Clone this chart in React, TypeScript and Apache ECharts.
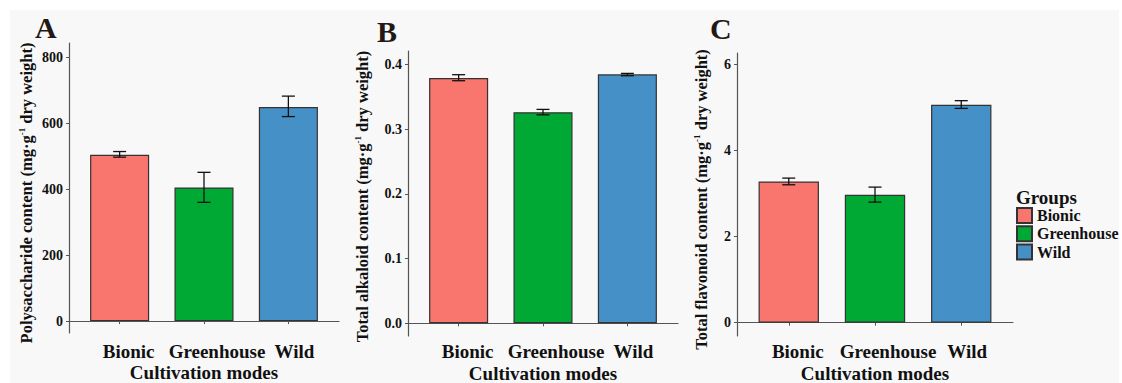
import React, { useEffect, useRef } from 'react';
import * as echarts from 'echarts';

const categories = ['Bionic', 'Greenhouse', 'Wild'];
const groupColors = ['#F8766D', '#00A933', '#4690C8'];
const polysaccharide = [504, 405, 649];
const polysaccharideErr = [[497, 514], [360, 451], [620, 682]];
const alkaloid = [0.379, 0.326, 0.3845];
const alkaloidErr = [[0.3747, 0.384], [0.322, 0.3304], [0.3824, 0.386]];
const flavonoid = [3.275, 2.966, 5.057];
const flavonoidErr = [[3.199, 3.354], [2.797, 3.145], [4.971, 5.15]];
const polyTicks = [0, 200, 400, 600, 800];
const alkTicks = [0, 0.1, 0.2, 0.3, 0.4];
const flavTicks = [0, 2, 4, 6];
const xTicks = [1, 2, 3];
const panelLetters = ['A', 'B', 'C'];
const yTitles = [
  ['Polysaccharide content (mg·g', '-1', ' dry weight)'],
  ['Total alkaloid content (mg·g', '-1', ' dry weight)'],
  ['Total flavonoid content (mg·g', '-1', ' dry weight)'],
];
const xTitle = 'Cultivation modes';
const legendTitle = 'Groups';

const FONT = '"Liberation Serif", "Times New Roman", serif';
const INK = '#111111';
const AXIS = '#555555';
const labelShift = [18, 26, 12];

const panels = [
  { grid: { left: 69, top: 43, width: 270, height: 290 }, yMin: -36, yMax: 843, ticks: polyTicks, dec: 0, values: polysaccharide, errs: polysaccharideErr, nameGap: 34, namePad: 10, xLabelMargin: 9, xNameGap: 30, letter: { x: 35, y: 27 } },
  { grid: { left: 408, top: 51, width: 270, height: 285 }, yMin: -0.0196, yMax: 0.4206, ticks: alkTicks, dec: 1, values: alkaloid, errs: alkaloidErr, nameGap: 37, namePad: 6, xLabelMargin: 6, xNameGap: 28, letter: { x: 377, y: 31 } },
  { grid: { left: 737, top: 53, width: 276, height: 283 }, yMin: -0.309, yMax: 6.256, ticks: flavTicks, dec: 0, values: flavonoid, errs: flavonoidErr, nameGap: 27, namePad: 10, xLabelMargin: 6, xNameGap: 28, letter: { x: 710, y: 28 } },
];

export default function App() {
  const ref = useRef<HTMLDivElement>(null);
  useEffect(() => {
    document.body.style.margin = '0';
    const chart = echarts.init(ref.current!, null, { renderer: 'svg' });
    const grids: any[] = [];
    const xAxes: any[] = [];
    const yAxes: any[] = [];
    const series: any[] = [];
    const graphics: any[] = [
      { type: 'rect', z: -100, silent: true, shape: { x: 10, y: 10, width: 1109, height: 373 }, style: { fill: '#f8f8f8' } },
    ];
    const xRich: any = {};
    labelShift.forEach((s, i) => {
      xRich['c' + i] = { fontFamily: FONT, fontWeight: 'bold', fontSize: 19, color: INK, padding: [0, 0, 0, s] };
    });
    panels.forEach((p, g) => {
      grids.push({ ...p.grid, containLabel: false, outerBoundsMode: 'none' });
      xAxes.push({
        type: 'value', gridIndex: g, min: 0.4, max: 3.6,
        axisLine: { show: true, lineStyle: { color: AXIS, width: 1.2 } },
        axisTick: { show: true, customValues: xTicks, length: 3, lineStyle: { color: AXIS } },
        splitLine: { show: false },
        axisLabel: {
          customValues: xTicks, margin: p.xLabelMargin, hideOverlap: false,
          fontFamily: FONT, fontWeight: 'bold', fontSize: 19, color: INK,
          formatter: (v: number) => {
            const i = Math.round(v) - 1;
            return categories[i] ? `{c${i}|${categories[i]}}` : '';
          },
          rich: xRich,
        },
        name: xTitle, nameLocation: 'middle', nameGap: p.xNameGap, nameMoveOverlap: false,
        nameTextStyle: { fontFamily: FONT, fontWeight: 'bold', fontSize: 19, color: INK, lineHeight: 19 },
      });
      const t = yTitles[g];
      yAxes.push({
        type: 'value', gridIndex: g, min: p.yMin, max: p.yMax,
        axisLine: { show: true, lineStyle: { color: AXIS, width: 1.2 } },
        axisTick: { show: true, customValues: p.ticks, length: 3, lineStyle: { color: AXIS } },
        splitLine: { show: false },
        axisLabel: {
          customValues: p.ticks, margin: 6,
          fontFamily: FONT, fontWeight: 'bold', fontSize: 14, color: INK,
          formatter: (v: number) => v.toFixed(p.dec),
        },
        name: `{n|${t[0]}}{s|${t[1]}}{n|${t[2]}}`,
        nameLocation: 'middle', nameRotate: 90, nameGap: p.nameGap, nameMoveOverlap: false,
        nameTextStyle: {
          padding: [0, p.namePad, 0, 0],
          rich: {
            n: { fontFamily: FONT, fontWeight: 'bold', fontSize: 16.5, color: INK, lineHeight: 18 },
            s: { fontFamily: FONT, fontWeight: 'bold', fontSize: 9, color: INK, verticalAlign: 'top', lineHeight: 18 },
          },
        },
      });
      const bw = (0.7 * p.grid.width) / 3.2;
      categories.forEach((c, i) => {
        series.push({
          type: 'bar', name: c, xAxisIndex: g, yAxisIndex: g,
          data: [[i + 1, p.values[i]]], barWidth: bw, barGap: '-100%',
          itemStyle: { color: groupColors[i], borderColor: '#333333', borderWidth: 1.2 },
        });
      });
      series.push({
        type: 'custom', xAxisIndex: g, yAxisIndex: g, z: 10,
        data: p.errs.map((e, i) => [i + 1, e[0], e[1]]),
        encode: { x: 0, y: [1, 2] },
        renderItem: (params: any, api: any) => {
          const x = api.value(0);
          const lo = api.coord([x, api.value(1)]);
          const hi = api.coord([x, api.value(2)]);
          const cap = 6.5;
          const style = { stroke: '#111111', lineWidth: 1.3 };
          return {
            type: 'group',
            children: [
              { type: 'line', shape: { x1: lo[0], y1: lo[1], x2: hi[0], y2: hi[1] }, style },
              { type: 'line', shape: { x1: hi[0] - cap, y1: hi[1], x2: hi[0] + cap, y2: hi[1] }, style },
              { type: 'line', shape: { x1: lo[0] - cap, y1: lo[1], x2: lo[0] + cap, y2: lo[1] }, style },
            ],
          };
        },
      });
      graphics.push({
        type: 'text', x: p.letter.x, y: p.letter.y,
        style: { text: panelLetters[g], font: `bold 30px ${FONT}`, fill: '#231815', verticalAlign: 'middle', align: 'left' },
      });
    });
    graphics.push({
      type: 'text', x: 1016, y: 197,
      style: { text: legendTitle, font: `bold 19px ${FONT}`, fill: INK, verticalAlign: 'middle', align: 'left' },
    });
    chart.setOption({
      animation: false,
      grid: grids,
      xAxis: xAxes,
      yAxis: yAxes,
      series,
      legend: {
        data: categories, orient: 'vertical', left: 1016, top: 207, padding: 0,
        itemWidth: 15, itemHeight: 15, itemGap: 1.3, icon: 'rect', selectedMode: false,
        textStyle: { fontFamily: FONT, fontWeight: 'bold', fontSize: 16, color: INK, lineHeight: 15 },
      },
      graphic: graphics,
    });
    return () => chart.dispose();
  }, []);
  return <div ref={ref} style={{ width: 1122, height: 383 }} />;
}
